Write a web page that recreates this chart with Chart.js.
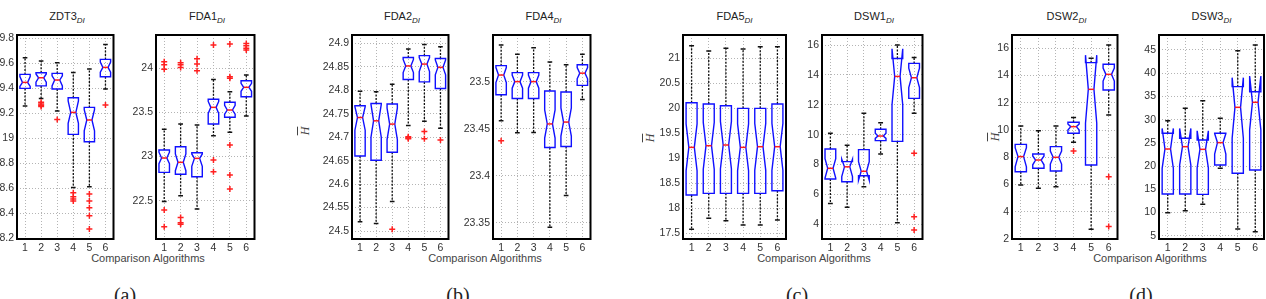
<!DOCTYPE html>
<html>
<head>
<meta charset="utf-8">
<script src="https://cdn.jsdelivr.net/npm/chart.js@4"></script>
<style>
body { margin: 0; width: 1266px; height: 299px; overflow: hidden; background: #fff; position: relative; font-family: "Liberation Sans", Arial, sans-serif; }
canvas { position: absolute; top: 0; }
.ttl { position: absolute; top: 10px; font-size: 11px; line-height: 13px; text-align: center; color: #222; white-space: nowrap; }
.ttl sub { font-size: 8px; font-style: italic; vertical-align: -3px; line-height: 0; }
.xl { position: absolute; top: 252px; font-size: 11px; line-height: 13px; color: #444; white-space: nowrap; transform: translateX(-50%); }
.cap { position: absolute; top: 285px; font: 20px/20px "Liberation Serif", serif; color: #222; transform: translateX(-50%); }
.yl { position: absolute; font: italic 12px/12px "Liberation Serif", serif; color: #444; transform: translate(-50%, -50%) rotate(-90deg); }
.yl span { text-decoration: overline; }
</style>
</head>
<body>
<div class="xl" style="left:148px">Comparison Algorithms</div>
<div class="xl" style="left:485px">Comparison Algorithms</div>
<div class="xl" style="left:814px">Comparison Algorithms</div>
<div class="xl" style="left:1150px">Comparison Algorithms</div>
<div class="cap" style="left:125px">(a)</div>
<div class="cap" style="left:458px">(b)</div>
<div class="cap" style="left:797px">(c)</div>
<div class="cap" style="left:1141px">(d)</div>
<div class="yl" style="left:305px;top:131px"><span>H</span></div>
<div class="yl" style="left:650px;top:138px"><span>H</span></div>
<div class="yl" style="left:995px;top:137px"><span>H</span></div>
<script>
const algorithms = [1, 2, 3, 4, 5, 6];

// each row: [whisker low, q1, notch low, median, notch high, q3, whisker high]
const zdt3Stats = [
    [19.26, 19.40, 19.415, 19.448, 19.495, 19.512, 19.645],
    [19.32, 19.42, 19.45, 19.485, 19.515, 19.525, 19.62],
    [19.219, 19.395, 19.42, 19.467, 19.50, 19.52, 19.605],
    [18.608, 19.032, 19.12, 19.208, 19.30, 19.325, 19.528],
    [18.613, 18.973, 19.06, 19.147, 19.23, 19.248, 19.555],
    [19.395, 19.493, 19.53, 19.568, 19.61, 19.632, 19.752]
];
const zdt3Outliers = [[], [19.29, 19.275, 19.265, 19.255], [19.152], [18.565, 18.533, 18.515, 18.50], [18.555, 18.50, 18.445, 18.381, 18.275], [19.267]];
const zdt3Ticks = [18.2, 18.4, 18.6, 18.8, 19, 19.2, 19.4, 19.6, 19.8];

const fda1Stats = [
    [22.49, 22.821, 22.92, 22.984, 23.05, 23.074, 23.309],
    [22.557, 22.80, 22.84, 22.935, 23.03, 23.112, 23.369],
    [22.406, 22.772, 22.89, 22.98, 23.03, 23.044, 23.358],
    [23.237, 23.369, 23.49, 23.558, 23.625, 23.649, 23.875],
    [23.275, 23.445, 23.48, 23.528, 23.58, 23.615, 23.736],
    [23.46, 23.679, 23.74, 23.785, 23.83, 23.86, 23.924]
];
const fda1Outliers = [[24.076, 24.04, 23.99, 22.394, 22.205], [24.064, 24.04, 24.011, 22.311, 22.251, 22.232], [24.11, 24.05, 23.974], [24.264, 22.961, 22.829], [24.276, 23.906, 23.887, 23.131, 22.791, 22.632], [24.283, 24.257, 24.227, 24.208]];
const fda1Ticks = [22.5, 23, 23.5, 24];

const fda2Stats = [
    [24.52, 24.66, 24.715, 24.742, 24.765, 24.767, 24.798],
    [24.516, 24.651, 24.70, 24.735, 24.77, 24.772, 24.797],
    [24.563, 24.668, 24.695, 24.728, 24.762, 24.771, 24.813],
    [24.725, 24.823, 24.838, 24.852, 24.866, 24.87, 24.888],
    [24.734, 24.818, 24.84, 24.856, 24.87, 24.874, 24.898],
    [24.719, 24.804, 24.833, 24.849, 24.865, 24.868, 24.893]
];
const fda2Outliers = [[], [], [24.504], [24.701, 24.699, 24.697], [24.712, 24.697], [24.694]];
const fda2Ticks = [24.5, 24.55, 24.6, 24.65, 24.7, 24.75, 24.8, 24.85, 24.9];

const fda4Stats = [
    [23.4585, 23.486, 23.499, 23.507, 23.515, 23.517, 23.539],
    [23.4457, 23.482, 23.493, 23.5, 23.507, 23.5096, 23.529],
    [23.446, 23.482, 23.493, 23.5, 23.507, 23.5096, 23.536],
    [23.345, 23.43, 23.44, 23.455, 23.47, 23.49, 23.521],
    [23.379, 23.431, 23.442, 23.457, 23.472, 23.489, 23.518],
    [23.481, 23.496, 23.503, 23.509, 23.515, 23.518, 23.529]
];
const fda4Outliers = [[23.437], [], [], [], [], []];
const fda4Ticks = [23.35, 23.4, 23.45, 23.5];

const fda5Stats = [
    [17.58, 18.267, 18.75, 19.22, 19.69, 20.113, 21.253],
    [17.8, 18.3, 18.78, 19.253, 19.72, 20.087, 21.147],
    [17.753, 18.3, 18.79, 19.267, 19.74, 20.053, 21.2],
    [17.667, 18.3, 18.75, 19.22, 19.69, 20.0, 21.187],
    [17.667, 18.3, 18.76, 19.233, 19.70, 20.0, 21.233],
    [17.767, 18.353, 18.76, 19.233, 19.70, 20.087, 21.233]
];
const fda5Outliers = [[], [], [], [], [], []];
const fda5Ticks = [17.5, 18, 18.5, 19, 19.5, 20, 20.5, 21];

const dsw1Stats = [
    [5.4, 7.03, 7.1, 7.75, 8.4, 9.04, 10.09],
    [5.15, 6.85, 7.2, 7.85, 8.35, 8.2, 9.3],
    [6.52, 7.25, 6.95, 7.55, 8.2, 9.0, 11.43],
    [8.7, 9.6, 9.75, 9.91, 10.1, 10.36, 10.8],
    [4.1, 9.55, 12.0, 13.9, 15.75, 15.1, 16.0],
    [11.43, 12.43, 13.15, 13.81, 14.45, 14.77, 15.17]
];
const dsw1Outliers = [[], [], [], [], [], [8.75, 4.51, 3.62]];
const dsw1Ticks = [4, 6, 8, 10, 12, 14, 16];

const dsw2Stats = [
    [5.97, 6.94, 7.3, 8.05, 8.7, 8.95, 10.3],
    [5.72, 7.19, 7.45, 7.8, 8.1, 8.24, 9.95],
    [5.84, 6.99, 7.5, 8.0, 8.45, 8.78, 10.3],
    [9.1, 9.76, 10.0, 10.25, 10.45, 10.57, 10.93],
    [2.71, 7.43, 10.5, 12.99, 15.5, 14.95, 15.27],
    [11.1, 12.94, 13.6, 14.09, 14.55, 14.83, 16.24]
];
const dsw2Outliers = [[], [], [], [8.46], [], [6.58, 2.91]];
const dsw2Ticks = [2, 4, 6, 8, 10, 12, 14, 16];

const dsw3Stats = [
    [9.95, 13.98, 19.5, 23.67, 28.1, 27.05, 29.78],
    [10.39, 13.98, 20.2, 24.17, 28.1, 25.97, 32.43],
    [11.75, 13.9, 19.6, 23.6, 27.6, 25.6, 34.08],
    [19.5, 20.22, 22.6, 25.04, 27.0, 27.05, 30.28],
    [6.44, 18.43, 26.0, 32.65, 39.04, 37.1, 44.86],
    [5.86, 19.15, 27.8, 33.73, 39.4, 36.0, 46.08]
];
const dsw3Outliers = [[], [], [], [], [], []];
const dsw3Ticks = [5, 10, 15, 20, 25, 30, 35, 40, 45];

// layout of the eight axes (pixels) and their value ranges
const panels = [
    { name: 'ZDT3', left: 17, width: 100, min: 18.195, max: 19.827, stats: zdt3Stats, outliers: zdt3Outliers, ticks: zdt3Ticks },
    { name: 'FDA1', left: 156, width: 102, min: 22.066, max: 24.378, stats: fda1Stats, outliers: fda1Outliers, ticks: fda1Ticks },
    { name: 'FDA2', left: 352, width: 100, min: 24.483, max: 24.918, stats: fda2Stats, outliers: fda2Outliers, ticks: fda2Ticks },
    { name: 'FDA4', left: 493, width: 101, min: 23.3326, max: 23.5496, stats: fda4Stats, outliers: fda4Outliers, ticks: fda4Ticks },
    { name: 'FDA5', left: 683, width: 103, min: 17.387, max: 21.467, stats: fda5Stats, outliers: fda5Outliers, ticks: fda5Ticks },
    { name: 'DSW1', left: 822, width: 104, min: 3.02, max: 16.67, stats: dsw1Stats, outliers: dsw1Outliers, ticks: dsw1Ticks },
    { name: 'DSW2', left: 1012, width: 109, min: 2.0, max: 16.98, stats: dsw2Stats, outliers: dsw2Outliers, ticks: dsw2Ticks },
    { name: 'DSW3', left: 1159, width: 105, min: 4.28, max: 48.23, stats: dsw3Stats, outliers: dsw3Outliers, ticks: dsw3Ticks }
];

// matlab-style notched boxes drawn through the chart's scales
function boxPlugin(stats) {
    return {
        id: 'notchBoxes',
        beforeDatasetsDraw(chart) {
            const { ctx, scales: { x, y } } = chart;
            stats.forEach((s, i) => {
                const [lo, q1, nlo, med, nhi, q3, hi] = s;
                const cx = x.getPixelForValue(algorithms[i]);
                const half = x.getPixelForValue(algorithms[i] + 0.32) - cx;
                const inner = half * 0.5;
                const cap = half * 0.45;
                ctx.save();
                // whiskers
                ctx.strokeStyle = '#111';
                ctx.lineWidth = 1.3;
                ctx.setLineDash([2, 1.5]);
                ctx.beginPath();
                ctx.moveTo(cx, y.getPixelForValue(q3));
                ctx.lineTo(cx, y.getPixelForValue(hi));
                ctx.moveTo(cx, y.getPixelForValue(q1));
                ctx.lineTo(cx, y.getPixelForValue(lo));
                ctx.stroke();
                ctx.setLineDash([]);
                ctx.lineWidth = 1.5;
                ctx.beginPath();
                ctx.moveTo(cx - cap, y.getPixelForValue(hi));
                ctx.lineTo(cx + cap, y.getPixelForValue(hi));
                ctx.moveTo(cx - cap, y.getPixelForValue(lo));
                ctx.lineTo(cx + cap, y.getPixelForValue(lo));
                ctx.stroke();
                // box with notch
                ctx.strokeStyle = '#1010ff';
                ctx.lineWidth = 1.4;
                ctx.beginPath();
                ctx.moveTo(cx - half, y.getPixelForValue(q1));
                ctx.lineTo(cx - half, y.getPixelForValue(nlo));
                ctx.lineTo(cx - inner, y.getPixelForValue(med));
                ctx.lineTo(cx - half, y.getPixelForValue(nhi));
                ctx.lineTo(cx - half, y.getPixelForValue(q3));
                ctx.lineTo(cx + half, y.getPixelForValue(q3));
                ctx.lineTo(cx + half, y.getPixelForValue(nhi));
                ctx.lineTo(cx + inner, y.getPixelForValue(med));
                ctx.lineTo(cx + half, y.getPixelForValue(nlo));
                ctx.lineTo(cx + half, y.getPixelForValue(q1));
                ctx.closePath();
                ctx.stroke();
                // median
                ctx.strokeStyle = '#ff1a1a';
                ctx.lineWidth = 1.5;
                ctx.beginPath();
                ctx.moveTo(cx - inner, y.getPixelForValue(med));
                ctx.lineTo(cx + inner, y.getPixelForValue(med));
                ctx.stroke();
                ctx.restore();
            });
        },
        afterDraw(chart) {
            const { ctx, chartArea: a } = chart;
            ctx.save();
            ctx.strokeStyle = '#000';
            ctx.lineWidth = 2;
            ctx.strokeRect(a.left, a.top, a.right - a.left, a.bottom - a.top);
            ctx.restore();
        }
    };
}

const tickFont = { family: '"Liberation Sans", Arial, sans-serif', size: 10.5 };

panels.forEach(p => {
    const title = document.createElement('div');
    title.className = 'ttl';
    title.style.left = p.left + 'px';
    title.style.width = p.width + 'px';
    title.innerHTML = p.name + '<sub>DI</sub>';
    document.body.appendChild(title);

    const cv = document.createElement('canvas');
    const cw = p.width + 42;
    cv.width = cw;
    cv.height = 299;
    cv.style.left = (p.left - 40) + 'px';
    cv.style.width = cw + 'px';
    cv.style.height = '299px';
    document.body.appendChild(cv);

    const points = [];
    p.outliers.forEach((vals, i) => vals.forEach(v => points.push({ x: algorithms[i], y: v })));

    new Chart(cv, {
        type: 'scatter',
        data: {
            datasets: [{
                data: points,
                pointStyle: 'cross',
                radius: 3,
                borderColor: '#ff2020',
                borderWidth: 1.5
            }]
        },
        options: {
            responsive: false,
            animation: false,
            devicePixelRatio: 1,
            layout: { padding: { top: 35, right: 2, bottom: 44, left: 0 } },
            plugins: { legend: { display: false }, tooltip: { enabled: false } },
            scales: {
                x: {
                    type: 'linear', min: 0.5, max: 6.5,
                    afterBuildTicks: s => { s.ticks = algorithms.map(v => ({ value: v })); },
                    afterFit: s => { s.height = 16; },
                    grid: { color: '#b4b4b4', drawTicks: false },
                    border: { display: false, dash: [1, 2] },
                    ticks: { padding: 3, color: '#333', font: tickFont, autoSkip: false, maxRotation: 0, callback: v => String(v) }
                },
                y: {
                    type: 'linear', min: p.min, max: p.max,
                    afterBuildTicks: s => { s.ticks = p.ticks.map(v => ({ value: v })); },
                    afterFit: s => { s.width = 40; },
                    grid: { color: '#b4b4b4', drawTicks: false },
                    border: { display: false, dash: [1, 2] },
                    ticks: { padding: 3, color: '#333', font: tickFont, callback: v => String(parseFloat(v.toFixed(3))) }
                }
            }
        },
        plugins: [boxPlugin(p.stats)]
    });
});
</script>
</body>
</html>
